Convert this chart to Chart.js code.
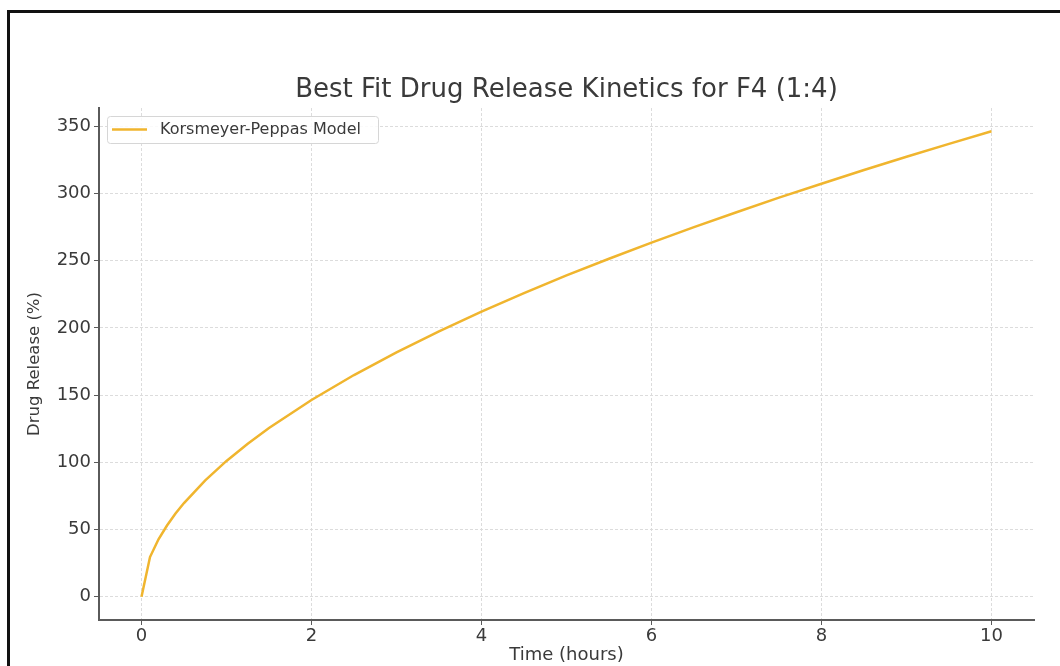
<!DOCTYPE html>
<html>
<head>
<meta charset="utf-8">
<script src="https://cdn.jsdelivr.net/npm/chart.js@4.4.1/dist/chart.umd.min.js"></script>
<style>
  html, body { margin: 0; padding: 0; background: #fff; }
  #wrap { position: relative; width: 1060px; height: 666px; overflow: hidden; }
  #frame { position: absolute; left: 7px; top: 10px; width: 1100px; height: 700px;
           border-top: 3px solid #111; border-left: 3px solid #111; }
  canvas { position: absolute; left: 0; top: 0; }
</style>
</head>
<body>
<div id="wrap">
  <div id="frame"></div>
  <canvas id="chart" width="1060" height="666"></canvas>
</div>
<script>
// values
const timeHours = [0, 0.1, 0.2, 0.3, 0.4, 0.5, 0.75, 1, 1.25, 1.5, 2, 2.5, 3, 3.5, 4,
  4.5, 5, 5.5, 6, 6.5, 7, 7.5, 8, 8.5, 9, 9.5, 10];
const drugRelease = [0, 29.5, 42.7, 53, 61.9, 69.7, 86.6, 101, 113.8, 125.5, 146.3, 164.9,
  181.8, 197.4, 212, 225.8, 239, 251.4, 263.4, 274.9, 286, 296.8, 307.2, 317.4, 327.2, 336.8, 346.2];
const xTicks = [0, 2, 4, 6, 8, 10];
const yTicks = [0, 50, 100, 150, 200, 250, 300, 350];
const seriesLabel = 'Korsmeyer-Peppas Model';
const chartTitle = 'Best Fit Drug Release Kinetics for F4 (1:4)';

const lineColor = '#F0B52E';
const textColor = '#3a3a3a';
const gridColor = '#dcdcdc';
const axisColor = '#5a5a5a';

// title centred over the plot area, legend box inside it (top-left)
const decorations = {
  id: 'decorations',
  afterDraw(chart) {
    const { ctx, chartArea } = chart;
    const ds = chart.data.datasets[0];
    ctx.save();
    ctx.fillStyle = textColor;
    ctx.font = '26px "DejaVu Sans"';
    ctx.textAlign = 'center';
    ctx.textBaseline = 'middle';
    ctx.fillText(chartTitle, (chartArea.left + chartArea.right) / 2, 90);

    const x = chartArea.left + 8, y = chartArea.top + 8;
    const w = 271, h = 27;
    ctx.fillStyle = 'rgba(255,255,255,0.85)';
    ctx.strokeStyle = '#d6d6d6';
    ctx.lineWidth = 1;
    ctx.beginPath();
    ctx.roundRect(x + 0.5, y + 0.5, w, h, 3);
    ctx.fill();
    ctx.stroke();
    ctx.strokeStyle = ds.borderColor;
    ctx.lineWidth = 2.5;
    ctx.beginPath();
    ctx.moveTo(x + 5, y + 13.5);
    ctx.lineTo(x + 40, y + 13.5);
    ctx.stroke();
    ctx.fillStyle = textColor;
    ctx.font = '16px "DejaVu Sans"';
    ctx.textAlign = 'left';
    ctx.fillText(ds.label, x + 53, y + 14);
    ctx.restore();
  }
};

const tickFont = { family: 'DejaVu Sans', size: 18 };
const titleFont = { family: 'DejaVu Sans', size: 18 };

new Chart(document.getElementById('chart'), {
  type: 'line',
  data: {
    labels: timeHours,
    datasets: [{
      label: seriesLabel,
      data: timeHours.map((t, i) => ({ x: t, y: drugRelease[i] })),
      borderColor: lineColor,
      backgroundColor: lineColor,
      borderWidth: 2.5,
      pointRadius: 0,
      tension: 0,
      fill: false,
    }],
  },
  options: {
    responsive: false,
    animation: false,
    layout: { padding: { left: 0, right: 26, top: 108, bottom: 0 } },
    plugins: {
      legend: { display: false },
      tooltip: { enabled: false },
      title: { display: false },
    },
    scales: {
      x: {
        type: 'linear',
        min: -0.5,
        max: 10.5,
        afterBuildTicks: (scale) => { scale.ticks = xTicks.map(v => ({ value: v })); },
        afterFit: (scale) => { scale.height = 46; },
        ticks: { color: textColor, font: tickFont, padding: 1, maxRotation: 0 },
        grid: { color: gridColor, tickLength: 5, tickColor: axisColor, tickWidth: 1 },
        border: { color: axisColor, width: 2, dash: [3, 2] },
        title: {
          display: true,
          text: 'Time (hours)',
          color: textColor,
          font: titleFont,
          padding: { top: 0, bottom: 0 },
        },
      },
      y: {
        type: 'linear',
        min: -17.3,
        max: 363.5,
        afterBuildTicks: (scale) => { scale.ticks = yTicks.map(v => ({ value: v })); },
        afterFit: (scale) => { scale.width = 99; },
        ticks: { color: textColor, font: tickFont, padding: 3 },
        grid: { color: gridColor, tickLength: 5, tickColor: axisColor, tickWidth: 1 },
        border: { color: axisColor, width: 2, dash: [3, 2] },
        title: {
          display: true,
          text: 'Drug Release (%)',
          color: textColor,
          font: { family: 'DejaVu Sans', size: 16.5 },
          padding: { top: 25, bottom: 0 },
        },
      },
    },
  },
  plugins: [decorations],
});
</script>
</body>
</html>
